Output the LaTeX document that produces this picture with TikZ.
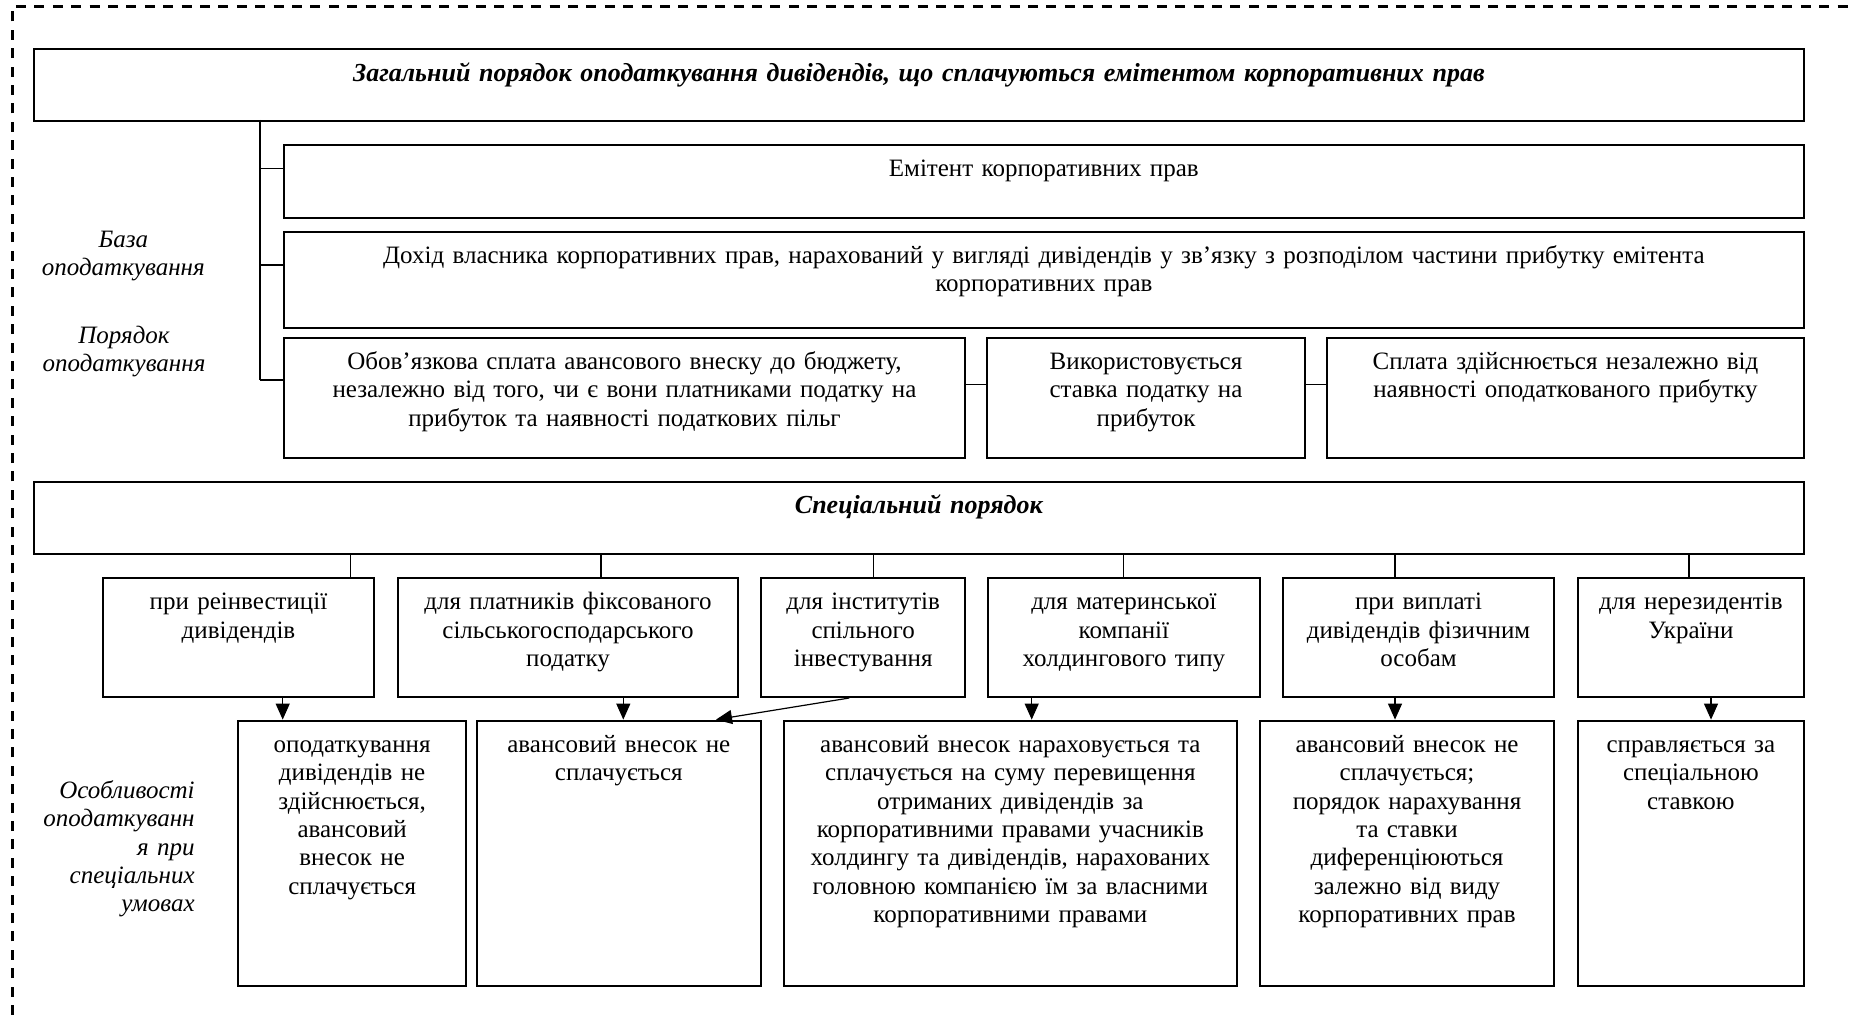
\documentclass[tikz,border=0pt]{standalone}
\usepackage{fontspec}
\setmainfont{Liberation Serif}
\usetikzlibrary{arrows.meta}
\usetikzlibrary{positioning}
\newcommand{\boxfont}{\fontsize{12.5}{14.15}\selectfont}
\tikzset{frame box/.style={draw=black, rectangle, line width=1pt, inner sep=0pt, anchor=north west}}
\tikzset{box text/.style={align=center, anchor=base, inner sep=0pt, font=\boxfont}}
\tikzset{side text/.style={box text, font=\boxfont\itshape}}
\tikzset{head text/.style={box text, font=\fontsize{13}{14.15}\selectfont\bfseries\itshape}}
\tikzset{link/.style={draw=black, line width=0.6pt}}
\tikzset{link arrow/.style={link, -{Triangle[length=8pt, width=7pt]}}}

\begin{document}
\begin{tikzpicture}[x=0.5pt, y=-0.5pt]
\useasboundingbox (0,0) rectangle (1855,1015);
\draw[line width=1.3pt, dash pattern=on 5pt off 4.2pt] (12.3,1015) -- (12.3,6.7) -- (1855,6.7);

% general order
\node[frame box, minimum width=885.15pt, minimum height=35.85pt] (general) at (32.7,48.3) {};
\node[head text, text width=870pt] (general text) at ([yshift=-16.5pt]general.north)
  {Загальний порядок оподаткування дивідендів, що сплачуються емітентом корпоративних прав};

\node[frame box, minimum width=760.15pt, minimum height=36.35pt] (issuer) at (282.7,144) {};
\node[box text, text width=750pt] (issuer text) at ([yshift=-16.5pt]issuer.north) {Емітент корпоративних прав};

\node[frame box, minimum width=760.15pt, minimum height=48pt] (income) at (282.7,230.7) {};
\node[box text, text width=750pt] (income text) at ([yshift=-16.5pt]income.north)
  {Дохід власника корпоративних прав, нарахований у вигляді дивідендів у зв’язку з розподілом частини прибутку емітента\\корпоративних прав};

\node[frame box, minimum width=340.8pt, minimum height=60pt] (advance) at (282.7,336.7) {};
\node[box text, text width=336pt] (advance text) at ([yshift=-16.5pt]advance.north)
  {Обов’язкова сплата авансового внеску до бюджету,\\незалежно від того, чи є вони платниками податку на\\прибуток та наявності податкових пільг};

\node[frame box, minimum width=159pt, minimum height=60pt] (rate) at (986,336.7) {};
\node[box text, text width=155pt] (rate text) at ([yshift=-16.5pt]rate.north)
  {Використовується\\ставка податку на\\прибуток};

\node[frame box, minimum width=238.5pt, minimum height=60pt] (anyprofit) at (1326,336.7) {};
\node[box text, text width=234pt] (anyprofit text) at ([yshift=-16.5pt]anyprofit.north)
  {Сплата здійснюється незалежно від\\наявності оподаткованого прибутку};

\coordinate (trunk) at (260,120);
\draw[link] (trunk) -- (trunk |- 0,380);
\foreach \n/\y in {issuer/168.3, income/265, advance/380}
  \draw[link] (trunk |- 0,\y) -- (\n.west |- 0,\y);
\draw[link] (advance.east |- 0,384.3) -- (rate.west |- 0,384.3);
\draw[link] (rate.east |- 0,384.3) -- (anyprofit.west |- 0,384.3);

\node[side text, text width=100pt] (base label) at (123.3,247.3) {База\\оподаткування};
\node[side text, text width=100pt] (order label) at (124,343.6) {Порядок\\оподаткування};

% special order
\node[frame box, minimum width=885.15pt, minimum height=36.1pt] (special) at (32.7,480.5) {};
\node[head text, text width=870pt] (special text) at ([yshift=-16.5pt]special.north)
  {Спеціальний порядок};

\node[frame box, minimum width=135.8pt, minimum height=59.65pt] (reinvest) at (101.7,576.7) {};
\node[frame box, minimum width=169.7pt, minimum height=59.65pt] (farmers) at (397.3,576.7) {};
\node[frame box, minimum width=102.15pt, minimum height=59.65pt] (funds) at (760,576.7) {};
\node[frame box, minimum width=136.15pt, minimum height=59.65pt] (holding) at (986.7,576.7) {};
\node[frame box, minimum width=135.8pt, minimum height=59.65pt] (persons) at (1281.7,576.7) {};
\node[frame box, minimum width=113.15pt, minimum height=59.65pt] (nonres) at (1576.7,576.7) {};

\node[box text, text width=132pt] (reinvest text) at ([yshift=-16.5pt]reinvest.north) {при реінвестиції\\дивідендів};
\node[box text, text width=166pt] (farmers text) at ([yshift=-16.5pt]farmers.north) {для платників фіксованого\\сільськогосподарського\\податку};
\node[box text, text width=98pt] (funds text) at ([yshift=-16.5pt]funds.north) {для інститутів\\спільного\\інвестування};
\node[box text, text width=132pt] (holding text) at ([yshift=-16.5pt]holding.north) {для материнської\\компанії\\холдингового типу};
\node[box text, text width=132pt] (persons text) at ([yshift=-16.5pt]persons.north) {при виплаті\\дивідендів фізичним\\особам};
\node[box text, text width=110pt] (nonres text) at ([yshift=-16.5pt]nonres.north) {для нерезидентів\\України};

\foreach \n/\x in {reinvest/350.7, farmers/601, funds/873.3, holding/1123.3, persons/1395, nonres/1689}
  \draw[link] (special.south -| \x,0) -- (\n.north -| \x,0);

\node[frame box, minimum width=113.85pt, minimum height=132.7pt] (notax) at (237.3,719.6) {};
\node[frame box, minimum width=142.15pt, minimum height=132.7pt] (noadvance) at (475.7,719.6) {};
\node[frame box, minimum width=226.65pt, minimum height=132.7pt] (excess) at (782.7,719.6) {};
\node[frame box, minimum width=147pt, minimum height=132.7pt] (differ) at (1259,719.6) {};
\node[frame box, minimum width=113.15pt, minimum height=132.7pt] (special rate) at (1576.7,719.6) {};

\node[box text, text width=110pt] (notax text) at ([yshift=-16.5pt]notax.north)
  {оподаткування\\дивідендів не\\здійснюється,\\авансовий\\внесок не\\сплачується};
\node[box text, text width=138pt] (noadvance text) at ([yshift=-16.5pt]noadvance.north)
  {авансовий внесок не\\сплачується};
\node[box text, text width=222pt] (excess text) at ([yshift=-16.5pt]excess.north)
  {авансовий внесок нараховується та\\сплачується на суму перевищення\\отриманих дивідендів за\\корпоративними правами учасників\\холдингу та дивідендів, нарахованих\\головною компанією їм за власними\\корпоративними правами};
\node[box text, text width=143pt] (differ text) at ([yshift=-16.5pt]differ.north)
  {авансовий внесок не\\сплачується;\\порядок нарахування\\та ставки\\диференціюються\\залежно від виду\\корпоративних прав};
\node[box text, text width=110pt] (special rate text) at ([yshift=-16.5pt]special rate.north)
  {справляється за\\спеціальною\\ставкою};

\foreach \a/\b/\x in {reinvest/notax/282.7, farmers/noadvance/623.3, holding/excess/1031.7, persons/differ/1395, nonres/special rate/1711}
  \draw[link arrow] (\a.south -| \x,0) -- (\b.north -| \x,0);
\draw[link arrow] (funds.south -| 849.3,0) -- (noadvance.north -| 716,0);

\node[side text, text width=90pt, align=right, anchor=base east] (features label) at (195,798.6)
  {Особливості\\оподаткуванн\\я при\\спеціальних\\умовах};
\end{tikzpicture}
\end{document}
